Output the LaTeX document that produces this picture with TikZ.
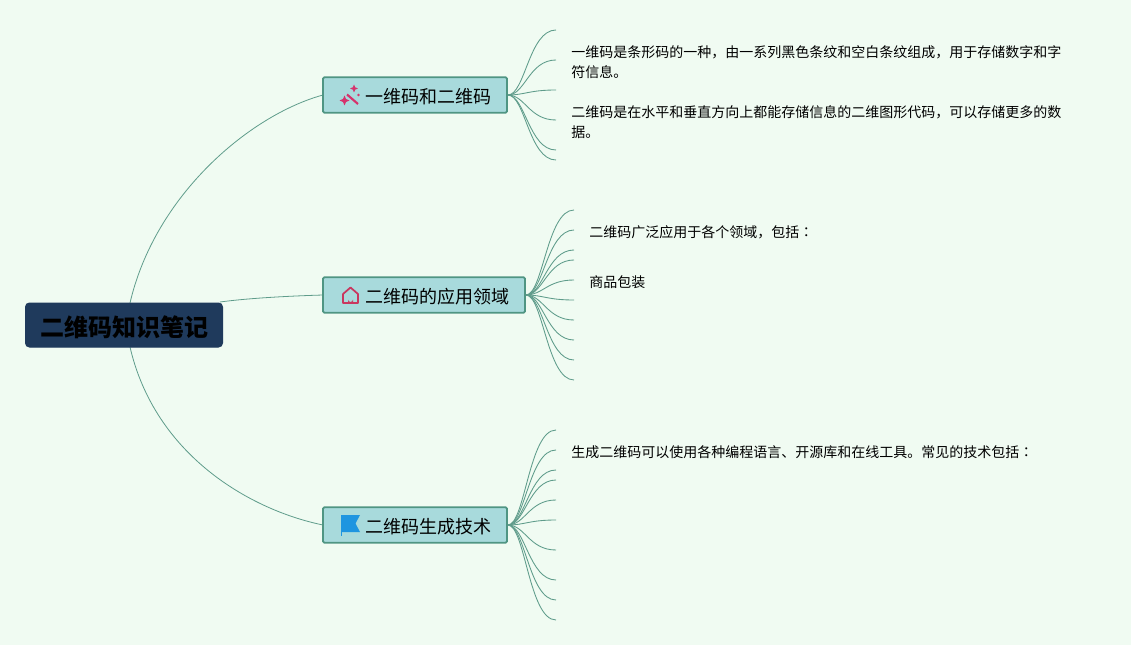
\documentclass[tikz,border=0pt]{standalone}
\usepackage{fontspec}
\setmainfont{Noto Sans CJK SC}
\newfontfamily\tcfont{Noto Sans CJK TC}
\definecolor{pagebg}{HTML}{F0FBF2}
\definecolor{rootfill}{HTML}{1F3A5C}
\definecolor{branchfill}{HTML}{A8DADC}
\definecolor{branchedge}{HTML}{4F9583}
\definecolor{linkgreen}{HTML}{5F9C8B}
\definecolor{iconred}{HTML}{D6336C}
\definecolor{housered}{HTML}{C9375F}
\definecolor{iconblue}{HTML}{1E95E0}
\tikzset{
  x=0.75pt,y=-0.75pt,
  rootbox/.style={draw=rootfill,fill=rootfill,rounded corners=3pt,line width=.75pt,minimum width=147.75pt,minimum height=33pt,inner sep=0pt},
  roottext/.style={inner sep=0pt,text=black,font=\fontsize{18}{22}\selectfont\bfseries},
  branchbox/.style={draw=branchedge,fill=branchfill,rounded corners=1pt,line width=1.3pt,minimum height=26.5pt,inner sep=0pt},
  btext/.style={font=\fontsize{13.5}{16}\selectfont,inner sep=0pt,anchor=base west,text=black},
  notetext/.style={font=\fontsize{10.5}{15}\selectfont,inner sep=0pt,anchor=north west,text=black,align=left},
  link/.style={draw=linkgreen,line width=.6pt},
  twig/.style={draw=linkgreen,line width=.65pt},
}
\begin{document}
\begin{tikzpicture}
\useasboundingbox (0,0) rectangle (1131,645);
\fill[pagebg] (0,0) rectangle (1131,645);

\coordinate (rt) at (130,303);
\coordinate (rm) at (220,302);
\coordinate (rb) at (130,347);
\coordinate (b1in) at (323,95);
\coordinate (b2in) at (323,295);
\coordinate (b3in) at (323,525);
\draw[link] (rt) .. controls (155,195) and (250,115) .. (b1in);
\draw[link] (rm) .. controls (250,298) and (290,296) .. (b2in);
\draw[link] (rb) .. controls (155,455) and (250,510) .. (b3in);

\node[rootbox] (root) at (124,325) {};
\node[roottext] (t0) at (124.5,327) {二维码知识笔记};
\node[branchbox,minimum width=138pt] (b1) at (415,95) {};
\node[branchbox,minimum width=151.5pt] (b2) at (424,295) {};
\node[branchbox,minimum width=138pt] (b3) at (415,525) {};

\node[btext] (t1) at (365,103.5) {一维码和二维码};
\node[btext] (t2) at (365,303.5) {二维码的应用领域};
\node[btext] (t3) at (365,533.5) {二维码生成技术};

% twigs branch 1
\foreach \i/\y in {1/30,2/60,3/90,4/120,5/150,6/160}{
  \coordinate (a\i) at (556,\y);
  \draw[twig] (b1.east) .. controls (525,95) and (529,\y) .. (a\i);
}
% twigs branch 2
\foreach \i/\y in {1/210,2/230,3/250,4/260,5/280,6/300,7/320,8/340,9/360,10/380}{
  \coordinate (c\i) at (574,\y);
  \draw[twig] (b2.east) .. controls (543,295) and (547,\y) .. (c\i);
}
% twigs branch 3
\foreach \i/\y in {1/430,2/450,3/470,4/480,5/500,6/520,7/550,8/580,9/600,10/620}{
  \coordinate (d\i) at (556,\y);
  \draw[twig] (b3.east) .. controls (525,525) and (529,\y) .. (d\i);
}

\node[notetext] (n1) at (571,45) {一维码是条形码的一种，由一系列黑色条纹和空白条纹组成，用于存储数字和字\\符信息。};
\node[notetext] (n2) at (571,105) {二维码是在水平和垂直方向上都能存储信息的二维图形代码，可以存储更多的数\\据。};
\node[notetext] (n3) at (589,225) {二维码广泛应用于各个领域，包括{\tcfont ：}};
\node[notetext] (n4) at (589,275) {商品包装};
\node[notetext] (n5) at (571,445) {生成二维码可以使用各种编程语言、开源库和在线工具。常见的技术包括{\tcfont ：}};

% wand icon
\draw[iconred,line width=1.6pt] (347,94.5) -- (358,104);
\fill[iconred] (344.5,95.5) -- (346,99) -- (349.5,100.5) -- (346,102) -- (344.5,105.5) -- (343,102) -- (339.5,100.5) -- (343,99) -- cycle;
\fill[iconred] (354,84.5) -- (355.2,87.3) -- (358,88.5) -- (355.2,89.7) -- (354,92.5) -- (352.8,89.7) -- (350,88.5) -- (352.8,87.3) -- cycle;
\fill[iconred] (358.5,95) circle (1pt);
% house icon
\draw[housered,line width=1.3pt,line join=round] (343,303) -- (343,294) -- (350.5,287.5) -- (358,294) -- (358,303) -- cycle;
\fill[housered] (348,303) -- (348,299.5) arc[start angle=180,end angle=0,radius=2.5] -- (353,303) -- cycle;
% flag icon
\fill[iconblue] (341,515) -- (360,515) -- (355.5,523.5) -- (360,532) -- (341,532) -- cycle;
\draw[iconblue,line width=.6pt] (341.4,515) -- (341.4,536);
\end{tikzpicture}
\end{document}
